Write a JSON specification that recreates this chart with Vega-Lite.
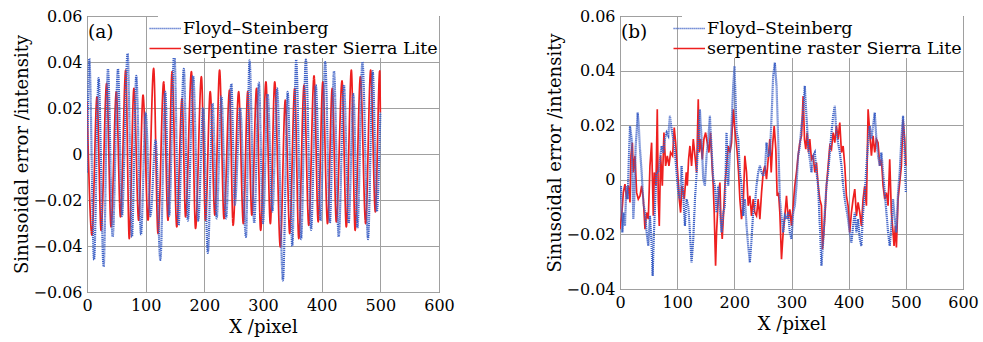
{
"$schema":"https://vega.github.io/schema/vega-lite/v6.json",
"background":"white",
"padding":{"left":13,"top":7,"right":0,"bottom":0},
"spacing":91,
"config":{
 "font":"DejaVu Serif",
 "view":{"stroke":"#555555","strokeWidth":1},
 "axis":{"labelFont":"DejaVu Serif","labelFontSize":16,"labelColor":"#000","labelFlush":false,"labelOverlap":false,"titleFont":"DejaVu Serif","titleFontSize":18,"titleFontWeight":"normal","titleColor":"#000","ticks":false,"domain":false,"gridColor":"#a0a0a0","gridOpacity":1,"gridWidth":1,"labelPadding":5,"titlePadding":1},
 "axisX":{"titlePadding":5},
 "legend":{"orient":"top-right","offset":0,"padding":1,"fillColor":"white","labelFont":"DejaVu Serif","labelFontSize":17.5,"labelColor":"#000","labelLimit":0,"symbolType":"M-2,0L1,0","symbolSize":441,"symbolStrokeWidth":1.6,"labelOffset":1,"rowPadding":0,"title":null},
 "title":{"font":"DejaVu Serif","fontSize":18.5,"fontWeight":"normal","color":"#000"}
},
"datasets":{
"a":[
{"m":"SL","x":0,"v":0.0227},{"m":"SL","x":8.5,"v":-0.0353},{"m":"SL","x":17,"v":0.0249},{"m":"SL","x":24,"v":-0.0332},{"m":"SL","x":33.5,"v":0.0307},{"m":"SL","x":41,"v":-0.0317},{"m":"SL","x":50,"v":0.0271},{"m":"SL","x":57,"v":-0.0273},{"m":"SL","x":66,"v":0.0365},{"m":"SL","x":72,"v":-0.0368},{"m":"SL","x":80,"v":0.0285},{"m":"SL","x":88,"v":-0.0288},{"m":"SL","x":95.5,"v":0.0256},{"m":"SL","x":104,"v":-0.0288},{"m":"SL","x":113.6,"v":0.0372},{"m":"SL","x":121,"v":-0.0346},{"m":"SL","x":130.7,"v":0.0314},{"m":"SL","x":138,"v":-0.0288},{"m":"SL","x":145,"v":0.0358},{"m":"SL","x":153,"v":-0.0317},{"m":"SL","x":162,"v":0.0242},{"m":"SL","x":168,"v":-0.0273},{"m":"SL","x":178,"v":0.0358},{"m":"SL","x":185,"v":-0.0324},{"m":"SL","x":195,"v":0.0336},{"m":"SL","x":202,"v":-0.0288},{"m":"SL","x":210,"v":0.0271},{"m":"SL","x":218,"v":-0.0266},{"m":"SL","x":226,"v":0.0365},{"m":"SL","x":233.5,"v":-0.0281},{"m":"SL","x":243,"v":0.0278},{"m":"SL","x":249,"v":-0.031},{"m":"SL","x":258.5,"v":0.0271},{"m":"SL","x":266.5,"v":-0.0303},{"m":"SL","x":274,"v":0.0271},{"m":"SL","x":281,"v":-0.0266},{"m":"SL","x":289,"v":0.0285},{"m":"SL","x":296,"v":-0.0332},{"m":"SL","x":305,"v":0.0314},{"m":"SL","x":312.5,"v":-0.0303},{"m":"SL","x":320,"v":0.0314},{"m":"SL","x":329.5,"v":-0.0404},{"m":"SL","x":338,"v":0.0234},{"m":"SL","x":345.5,"v":-0.0346},{"m":"SL","x":354,"v":0.0285},{"m":"SL","x":361,"v":-0.0368},{"m":"SL","x":370,"v":0.03},{"m":"SL","x":378,"v":-0.031},{"m":"SL","x":387,"v":0.034},{"m":"SL","x":394,"v":-0.0295},{"m":"SL","x":402,"v":0.0314},{"m":"SL","x":410,"v":-0.0303},{"m":"SL","x":418,"v":0.0285},{"m":"SL","x":425,"v":-0.0295},{"m":"SL","x":434.7,"v":0.0318},{"m":"SL","x":442,"v":-0.0317},{"m":"SL","x":450.6,"v":0.0365},{"m":"SL","x":457,"v":-0.0332},{"m":"SL","x":466,"v":0.0336},{"m":"SL","x":475,"v":-0.0303},{"m":"SL","x":483.5,"v":0.0365},{"m":"SL","x":491.5,"v":-0.0252},{"m":"SL","x":499,"v":0.0362},{"m":"SL","x":500,"v":0.018},
{"m":"FS","x":0,"v":-0.008},{"m":"FS","x":3.9,"v":0.0415},{"m":"FS","x":12,"v":-0.046},{"m":"FS","x":19.8,"v":0.033},{"m":"FS","x":28.3,"v":-0.049},{"m":"FS","x":35.7,"v":0.037},{"m":"FS","x":43.7,"v":-0.036},{"m":"FS","x":52.8,"v":0.037},{"m":"FS","x":59.6,"v":-0.027},{"m":"FS","x":69.2,"v":0.0437},{"m":"FS","x":76.6,"v":-0.036},{"m":"FS","x":84,"v":0.034},{"m":"FS","x":92,"v":-0.035},{"m":"FS","x":100,"v":0.018},{"m":"FS","x":108,"v":-0.027},{"m":"FS","x":117,"v":0.006},{"m":"FS","x":125,"v":-0.046},{"m":"FS","x":133.4,"v":0.027},{"m":"FS","x":140,"v":-0.027},{"m":"FS","x":148.8,"v":0.045},{"m":"FS","x":156,"v":-0.031},{"m":"FS","x":165,"v":0.037},{"m":"FS","x":172,"v":-0.029},{"m":"FS","x":181,"v":0.034},{"m":"FS","x":189.5,"v":-0.029},{"m":"FS","x":198,"v":0.02},{"m":"FS","x":206,"v":-0.043},{"m":"FS","x":214,"v":0.022},{"m":"FS","x":221,"v":-0.028},{"m":"FS","x":229,"v":0.025},{"m":"FS","x":237,"v":-0.028},{"m":"FS","x":246,"v":0.0305},{"m":"FS","x":252,"v":-0.022},{"m":"FS","x":261,"v":0.02},{"m":"FS","x":271,"v":-0.036},{"m":"FS","x":277,"v":0.0407},{"m":"FS","x":285,"v":-0.03},{"m":"FS","x":293,"v":0.031},{"m":"FS","x":300,"v":-0.03},{"m":"FS","x":308,"v":0.026},{"m":"FS","x":316,"v":-0.025},{"m":"FS","x":324,"v":0.0285},{"m":"FS","x":334,"v":-0.055},{"m":"FS","x":342,"v":0.027},{"m":"FS","x":350,"v":-0.04},{"m":"FS","x":356.5,"v":0.041},{"m":"FS","x":365,"v":-0.037},{"m":"FS","x":373,"v":0.041},{"m":"FS","x":382,"v":-0.033},{"m":"FS","x":390,"v":0.03},{"m":"FS","x":398,"v":-0.029},{"m":"FS","x":406,"v":0.04},{"m":"FS","x":414,"v":-0.03},{"m":"FS","x":421,"v":0.036},{"m":"FS","x":429,"v":-0.036},{"m":"FS","x":438,"v":0.03},{"m":"FS","x":446,"v":-0.03},{"m":"FS","x":454,"v":0.026},{"m":"FS","x":461,"v":-0.032},{"m":"FS","x":469.5,"v":0.04},{"m":"FS","x":479,"v":-0.037},{"m":"FS","x":487,"v":0.036},{"m":"FS","x":494,"v":-0.025},{"m":"FS","x":500,"v":0.018}
],
"b":[
{"m":"SL","x":0,"v":-0.0181},{"m":"SL","x":2.9,"v":-0.0132},{"m":"SL","x":5.8,"v":-0.0047},{"m":"SL","x":8.7,"v":-0.0016},{"m":"SL","x":11.65,"v":-0.0071},{"m":"SL","x":14.6,"v":-0.0022},{"m":"SL","x":17.5,"v":-0.0083},{"m":"SL","x":19.2,"v":0.0088},{"m":"SL","x":21.6,"v":0.0136},{"m":"SL","x":23.3,"v":0.0027},{"m":"SL","x":26.2,"v":0.0088},{"m":"SL","x":29.1,"v":-0.0047},{"m":"SL","x":32,"v":-0.0071},{"m":"SL","x":35,"v":-0.0059},{"m":"SL","x":37.9,"v":-0.0022},{"m":"SL","x":40.8,"v":-0.0071},{"m":"SL","x":43.7,"v":-0.0181},{"m":"SL","x":46.6,"v":-0.012},{"m":"SL","x":49.5,"v":-0.0144},{"m":"SL","x":52.4,"v":0.0051},{"m":"SL","x":55.3,"v":0.0136},{"m":"SL","x":58.25,"v":-0.0132},{"m":"SL","x":60,"v":0.0027},{"m":"SL","x":62.9,"v":-0.0022},{"m":"SL","x":65.2,"v":0.0258},{"m":"SL","x":67,"v":-0.0071},{"m":"SL","x":68.7,"v":-0.0169},{"m":"SL","x":71.1,"v":0.0088},{"m":"SL","x":74,"v":-0.0022},{"m":"SL","x":76.9,"v":0.0173},{"m":"SL","x":79.8,"v":0.0051},{"m":"SL","x":82.7,"v":0.0088},{"m":"SL","x":85.6,"v":0.0051},{"m":"SL","x":88.5,"v":0.01},{"m":"SL","x":92,"v":0.0088},{"m":"SL","x":94.9,"v":0.0191},{"m":"SL","x":97.3,"v":0.0136},{"m":"SL","x":100.8,"v":0.0027},{"m":"SL","x":103.7,"v":-0.0071},{"m":"SL","x":106,"v":-0.012},{"m":"SL","x":108.3,"v":-0.0022},{"m":"SL","x":110.7,"v":-0.0047},{"m":"SL","x":112.4,"v":-0.0071},{"m":"SL","x":114.2,"v":-0.0022},{"m":"SL","x":115.9,"v":0.0027},{"m":"SL","x":117.7,"v":-0.0022},{"m":"SL","x":120,"v":0.0075},{"m":"SL","x":122.3,"v":0.0124},{"m":"SL","x":125.2,"v":0.0051},{"m":"SL","x":128.2,"v":0.0149},{"m":"SL","x":131.1,"v":0.0088},{"m":"SL","x":134,"v":0.0027},{"m":"SL","x":136.9,"v":0.0295},{"m":"SL","x":138.6,"v":0.01},{"m":"SL","x":141,"v":0.0149},{"m":"SL","x":143.9,"v":0.0075},{"m":"SL","x":146.8,"v":0.0149},{"m":"SL","x":149.7,"v":0.0173},{"m":"SL","x":152.6,"v":0.0136},{"m":"SL","x":155.5,"v":0.01},{"m":"SL","x":158.4,"v":0.0173},{"m":"SL","x":160.8,"v":0.0063},{"m":"SL","x":163.1,"v":-0.0022},{"m":"SL","x":164.8,"v":-0.012},{"m":"SL","x":167.2,"v":-0.0315},{"m":"SL","x":168.9,"v":-0.0193},{"m":"SL","x":171.8,"v":-0.0071},{"m":"SL","x":174.75,"v":-0.001},{"m":"SL","x":176.5,"v":-0.0144},{"m":"SL","x":178.8,"v":-0.0217},{"m":"SL","x":181.2,"v":-0.012},{"m":"SL","x":183.5,"v":-0.0022},{"m":"SL","x":186.4,"v":0.0051},{"m":"SL","x":189.3,"v":0.0124},{"m":"SL","x":192.2,"v":0.01},{"m":"SL","x":195.1,"v":0.0136},{"m":"SL","x":198.05,"v":0.0258},{"m":"SL","x":200.4,"v":0.0197},{"m":"SL","x":202.7,"v":0.0149},{"m":"SL","x":205,"v":0.01},{"m":"SL","x":207.4,"v":0.0027},{"m":"SL","x":209.7,"v":-0.0071},{"m":"SL","x":212.6,"v":-0.0144},{"m":"SL","x":215.5,"v":-0.0095},{"m":"SL","x":218.4,"v":0.0088},{"m":"SL","x":221.35,"v":0.0027},{"m":"SL","x":224.3,"v":-0.0095},{"m":"SL","x":227.2,"v":-0.0059},{"m":"SL","x":230.1,"v":-0.0132},{"m":"SL","x":233,"v":-0.0071},{"m":"SL","x":235.9,"v":-0.012},{"m":"SL","x":238.8,"v":-0.0132},{"m":"SL","x":241.7,"v":-0.0071},{"m":"SL","x":244.65,"v":-0.0144},{"m":"SL","x":247.6,"v":-0.0047},{"m":"SL","x":250.5,"v":0.0027},{"m":"SL","x":253.4,"v":0.0051},{"m":"SL","x":256.3,"v":0.0002},{"m":"SL","x":259.2,"v":0.0075},{"m":"SL","x":262.1,"v":0.0149},{"m":"SL","x":264.5,"v":0.0027},{"m":"SL","x":266.8,"v":0.0124},{"m":"SL","x":269.7,"v":0.0197},{"m":"SL","x":272.6,"v":0.0112},{"m":"SL","x":274.9,"v":-0.0059},{"m":"SL","x":277.3,"v":-0.0047},{"m":"SL","x":279.6,"v":-0.012},{"m":"SL","x":282.5,"v":-0.0291},{"m":"SL","x":285.4,"v":-0.0193},{"m":"SL","x":288.3,"v":-0.0132},{"m":"SL","x":291.25,"v":-0.0059},{"m":"SL","x":294.2,"v":-0.0144},{"m":"SL","x":297.1,"v":-0.0108},{"m":"SL","x":300,"v":-0.0169},{"m":"SL","x":302.9,"v":-0.0095},{"m":"SL","x":305.8,"v":-0.0022},{"m":"SL","x":308.7,"v":0.0027},{"m":"SL","x":311.6,"v":0.0088},{"m":"SL","x":314.55,"v":0.0136},{"m":"SL","x":317.5,"v":0.0161},{"m":"SL","x":320.4,"v":0.0307},{"m":"SL","x":322.7,"v":0.0149},{"m":"SL","x":325,"v":0.0112},{"m":"SL","x":327.4,"v":0.0173},{"m":"SL","x":329.7,"v":0.01},{"m":"SL","x":332,"v":0.0149},{"m":"SL","x":334.9,"v":0.0075},{"m":"SL","x":337.85,"v":0.0088},{"m":"SL","x":340.8,"v":0.0027},{"m":"SL","x":343.7,"v":0.0063},{"m":"SL","x":346.6,"v":-0.0022},{"m":"SL","x":349.5,"v":-0.0071},{"m":"SL","x":352.4,"v":-0.0095},{"m":"SL","x":354.2,"v":-0.0254},{"m":"SL","x":356.5,"v":-0.0193},{"m":"SL","x":358.8,"v":-0.012},{"m":"SL","x":361.15,"v":-0.0022},{"m":"SL","x":364.1,"v":0.0051},{"m":"SL","x":367,"v":0.0124},{"m":"SL","x":369.9,"v":0.0112},{"m":"SL","x":372.8,"v":0.0173},{"m":"SL","x":375.7,"v":0.0136},{"m":"SL","x":378.6,"v":0.0197},{"m":"SL","x":381.5,"v":0.0149},{"m":"SL","x":384.45,"v":0.021},{"m":"SL","x":387.4,"v":0.01},{"m":"SL","x":390.3,"v":0.0124},{"m":"SL","x":393.2,"v":0.0051},{"m":"SL","x":396.1,"v":-0.0059},{"m":"SL","x":399,"v":-0.0095},{"m":"SL","x":401.9,"v":-0.0193},{"m":"SL","x":404.8,"v":-0.012},{"m":"SL","x":407.75,"v":-0.0071},{"m":"SL","x":410.7,"v":-0.0034},{"m":"SL","x":413.6,"v":-0.0132},{"m":"SL","x":416.5,"v":-0.0083},{"m":"SL","x":419.4,"v":-0.012},{"m":"SL","x":422.3,"v":-0.0169},{"m":"SL","x":425.2,"v":-0.0071},{"m":"SL","x":428.1,"v":-0.0022},{"m":"SL","x":431.05,"v":-0.0095},{"m":"SL","x":434,"v":0.0258},{"m":"SL","x":436.9,"v":0.0173},{"m":"SL","x":439.8,"v":0.0088},{"m":"SL","x":442.7,"v":0.0161},{"m":"SL","x":445.6,"v":0.01},{"m":"SL","x":448.5,"v":0.0149},{"m":"SL","x":451.4,"v":0.0136},{"m":"SL","x":454.35,"v":0.0051},{"m":"SL","x":457.3,"v":0.0075},{"m":"SL","x":460.2,"v":-0.0022},{"m":"SL","x":463.1,"v":-0.0071},{"m":"SL","x":466,"v":-0.0047},{"m":"SL","x":468.9,"v":-0.0095},{"m":"SL","x":471.8,"v":0.0075},{"m":"SL","x":474.7,"v":-0.012},{"m":"SL","x":477.65,"v":-0.0193},{"m":"SL","x":479.4,"v":-0.0242},{"m":"SL","x":481.7,"v":-0.0169},{"m":"SL","x":483.5,"v":-0.0248},{"m":"SL","x":486.4,"v":-0.0071},{"m":"SL","x":489.3,"v":-0.001},{"m":"SL","x":492.2,"v":0.0051},{"m":"SL","x":495.1,"v":0.0222},{"m":"SL","x":498,"v":0.0149},{"m":"SL","x":500,"v":0.0051},
{"m":"FS","x":0,"v":-0.0071},{"m":"FS","x":1.7,"v":-0.0022},{"m":"FS","x":4.1,"v":-0.0193},{"m":"FS","x":6.4,"v":-0.012},{"m":"FS","x":8.7,"v":-0.0169},{"m":"FS","x":11.1,"v":-0.0022},{"m":"FS","x":13.4,"v":-0.0071},{"m":"FS","x":15.7,"v":0.0088},{"m":"FS","x":17.5,"v":0.0197},{"m":"FS","x":20.4,"v":0.0149},{"m":"FS","x":23.3,"v":-0.0144},{"m":"FS","x":25,"v":-0.0071},{"m":"FS","x":27.4,"v":0.0124},{"m":"FS","x":29.1,"v":0.0173},{"m":"FS","x":30.9,"v":0.0246},{"m":"FS","x":32.6,"v":0.021},{"m":"FS","x":35,"v":0.0112},{"m":"FS","x":37.9,"v":0.0027},{"m":"FS","x":40.8,"v":-0.0083},{"m":"FS","x":43.7,"v":-0.012},{"m":"FS","x":46.6,"v":-0.0193},{"m":"FS","x":49.5,"v":-0.0242},{"m":"FS","x":52.4,"v":-0.0132},{"m":"FS","x":54.8,"v":-0.0217},{"m":"FS","x":57.1,"v":-0.0352},{"m":"FS","x":59.4,"v":-0.0193},{"m":"FS","x":61.7,"v":-0.0071},{"m":"FS","x":64.1,"v":0.0027},{"m":"FS","x":67,"v":0.0027},{"m":"FS","x":69.9,"v":0.0075},{"m":"FS","x":72.8,"v":0.0124},{"m":"FS","x":75.7,"v":0.01},{"m":"FS","x":78.6,"v":0.0149},{"m":"FS","x":81.55,"v":0.0173},{"m":"FS","x":84.5,"v":0.0161},{"m":"FS","x":87.4,"v":0.0234},{"m":"FS","x":90.3,"v":0.0185},{"m":"FS","x":93.2,"v":0.0149},{"m":"FS","x":96.1,"v":0.01},{"m":"FS","x":99,"v":0.0027},{"m":"FS","x":101.9,"v":-0.0047},{"m":"FS","x":104.85,"v":-0.0071},{"m":"FS","x":107.8,"v":0.0051},{"m":"FS","x":110.7,"v":-0.0059},{"m":"FS","x":113.6,"v":-0.0169},{"m":"FS","x":116.5,"v":-0.0071},{"m":"FS","x":119.4,"v":-0.0095},{"m":"FS","x":122.3,"v":-0.0193},{"m":"FS","x":125.2,"v":-0.0303},{"m":"FS","x":128.2,"v":-0.0217},{"m":"FS","x":131.1,"v":-0.0071},{"m":"FS","x":134,"v":0.0027},{"m":"FS","x":136.9,"v":0.0136},{"m":"FS","x":139.8,"v":0.0258},{"m":"FS","x":142.7,"v":0.0149},{"m":"FS","x":145.6,"v":0.0002},{"m":"FS","x":148.5,"v":-0.0022},{"m":"FS","x":151.45,"v":0.0088},{"m":"FS","x":154.4,"v":0.0149},{"m":"FS","x":157.3,"v":0.0234},{"m":"FS","x":160.2,"v":0.0112},{"m":"FS","x":163.1,"v":0.0002},{"m":"FS","x":166,"v":-0.0022},{"m":"FS","x":168.9,"v":-0.012},{"m":"FS","x":171.8,"v":-0.0022},{"m":"FS","x":174.75,"v":-0.0108},{"m":"FS","x":177.7,"v":-0.0193},{"m":"FS","x":180.6,"v":-0.012},{"m":"FS","x":183.5,"v":-0.0095},{"m":"FS","x":186.4,"v":0.0173},{"m":"FS","x":189.3,"v":-0.0022},{"m":"FS","x":192.2,"v":0.01},{"m":"FS","x":195.1,"v":0.0197},{"m":"FS","x":198.05,"v":0.0344},{"m":"FS","x":200.4,"v":0.0417},{"m":"FS","x":202.1,"v":0.0295},{"m":"FS","x":203.9,"v":0.0173},{"m":"FS","x":206.8,"v":0.0149},{"m":"FS","x":209.7,"v":0.0027},{"m":"FS","x":212.6,"v":-0.0022},{"m":"FS","x":215.5,"v":-0.0132},{"m":"FS","x":218.4,"v":-0.0071},{"m":"FS","x":221.35,"v":-0.0169},{"m":"FS","x":224.3,"v":-0.0242},{"m":"FS","x":227.2,"v":-0.0303},{"m":"FS","x":230.1,"v":-0.0217},{"m":"FS","x":233,"v":-0.012},{"m":"FS","x":235.9,"v":-0.0095},{"m":"FS","x":238.8,"v":-0.0022},{"m":"FS","x":241.7,"v":0.0027},{"m":"FS","x":244.65,"v":0.0051},{"m":"FS","x":247.6,"v":0.0027},{"m":"FS","x":250.5,"v":0.0014},{"m":"FS","x":253.4,"v":0.0027},{"m":"FS","x":256.3,"v":0.0136},{"m":"FS","x":259.2,"v":0.0088},{"m":"FS","x":262.1,"v":0.0088},{"m":"FS","x":265,"v":0.0222},{"m":"FS","x":267.95,"v":0.038},{"m":"FS","x":270.9,"v":0.0429},{"m":"FS","x":273.8,"v":0.0344},{"m":"FS","x":276.7,"v":0.0149},{"m":"FS","x":279.6,"v":-0.0071},{"m":"FS","x":282.5,"v":-0.0132},{"m":"FS","x":285.4,"v":-0.0193},{"m":"FS","x":288.3,"v":-0.0132},{"m":"FS","x":291.25,"v":-0.0144},{"m":"FS","x":294.2,"v":-0.012},{"m":"FS","x":297.1,"v":-0.0193},{"m":"FS","x":300,"v":-0.0217},{"m":"FS","x":302.9,"v":-0.012},{"m":"FS","x":305.8,"v":-0.0095},{"m":"FS","x":308.7,"v":-0.0022},{"m":"FS","x":311.6,"v":0.0088},{"m":"FS","x":314.55,"v":0.0124},{"m":"FS","x":317.5,"v":0.0197},{"m":"FS","x":320.4,"v":0.0246},{"m":"FS","x":323.3,"v":0.0344},{"m":"FS","x":326.2,"v":0.0234},{"m":"FS","x":329.1,"v":0.0124},{"m":"FS","x":332,"v":0.0075},{"m":"FS","x":334.9,"v":0.0027},{"m":"FS","x":337.85,"v":0.0088},{"m":"FS","x":340.8,"v":0.01},{"m":"FS","x":343.7,"v":0.0027},{"m":"FS","x":346.6,"v":-0.0022},{"m":"FS","x":349.5,"v":-0.0169},{"m":"FS","x":352.4,"v":-0.0315},{"m":"FS","x":355.3,"v":-0.023},{"m":"FS","x":358.2,"v":-0.012},{"m":"FS","x":361.15,"v":-0.0022},{"m":"FS","x":364.1,"v":0.0027},{"m":"FS","x":367,"v":0.01},{"m":"FS","x":369.9,"v":0.0173},{"m":"FS","x":372.8,"v":0.0234},{"m":"FS","x":375.7,"v":0.0271},{"m":"FS","x":378.6,"v":0.0173},{"m":"FS","x":381.5,"v":0.0136},{"m":"FS","x":384.45,"v":0.01},{"m":"FS","x":387.4,"v":0.0051},{"m":"FS","x":390.3,"v":-0.0022},{"m":"FS","x":393.2,"v":-0.0071},{"m":"FS","x":396.1,"v":-0.0108},{"m":"FS","x":399,"v":-0.0144},{"m":"FS","x":401.9,"v":-0.0193},{"m":"FS","x":404.8,"v":-0.023},{"m":"FS","x":407.75,"v":-0.0169},{"m":"FS","x":410.7,"v":-0.012},{"m":"FS","x":413.6,"v":-0.0193},{"m":"FS","x":416.5,"v":-0.0144},{"m":"FS","x":419.4,"v":-0.0217},{"m":"FS","x":422.3,"v":-0.0242},{"m":"FS","x":425.2,"v":-0.012},{"m":"FS","x":428.1,"v":-0.0047},{"m":"FS","x":431.05,"v":0.0051},{"m":"FS","x":434,"v":0.0136},{"m":"FS","x":436.9,"v":0.0197},{"m":"FS","x":439.8,"v":0.0149},{"m":"FS","x":442.7,"v":0.0197},{"m":"FS","x":445.6,"v":0.0246},{"m":"FS","x":448.5,"v":0.0149},{"m":"FS","x":451.4,"v":0.0088},{"m":"FS","x":454.35,"v":0.0051},{"m":"FS","x":457.3,"v":0.01},{"m":"FS","x":460.2,"v":0.0027},{"m":"FS","x":463.1,"v":-0.0047},{"m":"FS","x":466,"v":-0.012},{"m":"FS","x":468.9,"v":-0.0193},{"m":"FS","x":471.8,"v":-0.0242},{"m":"FS","x":474.7,"v":-0.0169},{"m":"FS","x":477.65,"v":-0.0071},{"m":"FS","x":480.6,"v":-0.0144},{"m":"FS","x":483.5,"v":-0.0193},{"m":"FS","x":486.4,"v":-0.0047},{"m":"FS","x":489.3,"v":0.0027},{"m":"FS","x":492.2,"v":0.0149},{"m":"FS","x":495.1,"v":0.0234},{"m":"FS","x":498,"v":0.01},{"m":"FS","x":500,"v":-0.0047}
]
},
"hconcat":[
{
 "width":352,"height":276,
 "data":{"name":"a"},
 "title":{"text":"(a)","anchor":"start","frame":"group","orient":"top","offset":-48,"dx":1,"baseline":"alphabetic"},
 "mark":{"type":"line","interpolate":"monotone","clip":true},
 "encoding":{
  "x":{"field":"x","type":"quantitative","scale":{"domain":[0,600],"nice":false},"axis":{"values":[0,100,200,300,400,500,600],"title":"X /pixel","format":"d"}},
  "y":{"field":"v","type":"quantitative","scale":{"domain":[-0.06,0.06],"nice":false},"axis":{"values":[-0.06,-0.04,-0.02,0,0.02,0.04,0.06],"title":"Sinusoidal error /intensity","labelExpr":"datum.value == 0 ? '0' : format(datum.value, '.2f')"}},
  "color":{"field":"m","type":"nominal","scale":{"domain":["FS","SL"],"range":["#3f62c6","#ee1f1f"]},"legend":{"labelExpr":"datum.label == 'FS' ? 'Floyd–Steinberg' : 'serpentine raster Sierra Lite'"}},
  "strokeDash":{"field":"m","type":"nominal","scale":{"domain":["FS","SL"],"range":[[1.2,0.8],[1,0]]},"legend":{"labelExpr":"datum.label == 'FS' ? 'Floyd–Steinberg' : 'serpentine raster Sierra Lite'"}},
  "strokeWidth":{"field":"m","type":"nominal","scale":{"domain":["FS","SL"],"range":[2.2,1.7]},"legend":null}
 }
},
{
 "width":343,"height":273,
 "data":{"name":"b"},
 "title":{"text":"(b)","anchor":"start","frame":"group","orient":"top","offset":-48,"dx":1,"baseline":"alphabetic"},
 "mark":{"type":"line","interpolate":"linear","clip":true},
 "encoding":{
  "x":{"field":"x","type":"quantitative","scale":{"domain":[0,600],"nice":false},"axis":{"values":[0,100,200,300,400,500,600],"title":"X /pixel","format":"d"}},
  "y":{"field":"v","type":"quantitative","scale":{"domain":[-0.04,0.06],"nice":false},"axis":{"values":[-0.04,-0.02,0,0.02,0.04,0.06],"title":"Sinusoidal error /intensity","labelExpr":"datum.value == 0 ? '0' : format(datum.value, '.2f')"}},
  "color":{"field":"m","type":"nominal","scale":{"domain":["FS","SL"],"range":["#3f62c6","#ee1f1f"]},"legend":{"labelExpr":"datum.label == 'FS' ? 'Floyd–Steinberg' : 'serpentine raster Sierra Lite'"}},
  "strokeDash":{"field":"m","type":"nominal","scale":{"domain":["FS","SL"],"range":[[1.2,0.8],[1,0]]},"legend":{"labelExpr":"datum.label == 'FS' ? 'Floyd–Steinberg' : 'serpentine raster Sierra Lite'"}},
  "strokeWidth":{"field":"m","type":"nominal","scale":{"domain":["FS","SL"],"range":[2,1.9]},"legend":null}
 }
}
],
"resolve":{"scale":{"y":"independent","color":"independent","strokeDash":"independent"},"legend":{"color":"independent","strokeDash":"independent"}}
}
